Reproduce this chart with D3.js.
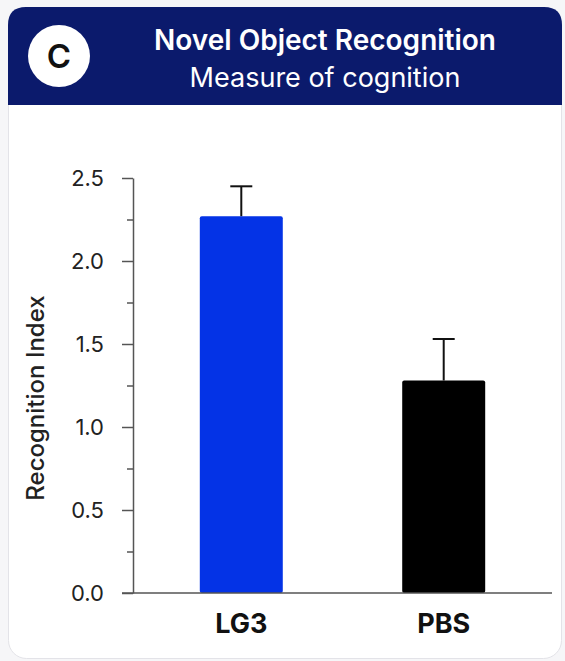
<!DOCTYPE html>
<html lang="en">
<head>
    <meta charset="UTF-8">
    <title>Novel Object Recognition</title>
    <script src="https://d3js.org/d3.v7.min.js"></script>
    <style>
        html, body {
            margin: 0;
            padding: 0;
            background: #f6f6f8;
        }
        svg {
            display: block;
            font-family: "Inter", "Noto Sans", sans-serif;
        }
    </style>
</head>
<body>
    <div id="chart"></div>

    <script>
        // Chart data
        const groups = ["LG3", "PBS"];
        const means = [2.27, 1.28];
        const errors = [0.18, 0.25];
        const barColors = ["#0433e6", "#000000"];
        const majorTicks = [0, 0.5, 1.0, 1.5, 2.0, 2.5];
        const minorTicks = [0.25, 0.75, 1.25, 1.75, 2.25];

        const W = 565, H = 661;

        const svg = d3.select("#chart")
            .append("svg")
            .attr("width", W)
            .attr("height", H);

        // Card
        svg.append("rect")
            .attr("x", 8.5).attr("y", 7.5)
            .attr("width", 553).attr("height", 651)
            .attr("rx", 18)
            .attr("fill", "#ffffff")
            .attr("stroke", "#e3e3e8");

        // Header band with rounded top corners
        const hx = 8, hy = 7, hw = 554, hh = 98, r = 18;
        svg.append("path")
            .attr("d", `M${hx},${hy + hh} V${hy + r} Q${hx},${hy} ${hx + r},${hy} H${hx + hw - r} Q${hx + hw},${hy} ${hx + hw},${hy + r} V${hy + hh} Z`)
            .attr("fill", "#0b1a6c");

        // Panel letter
        svg.append("circle")
            .attr("cx", 59).attr("cy", 56).attr("r", 31)
            .attr("fill", "#ffffff");
        svg.append("text")
            .attr("x", 59).attr("y", 68)
            .attr("text-anchor", "middle")
            .style("font-size", "33px")
            .style("font-weight", 600)
            .attr("fill", "#111")
            .text("C");

        // Titles
        svg.append("text")
            .attr("x", 325).attr("y", 50)
            .attr("text-anchor", "middle")
            .attr("fill", "#ffffff")
            .style("font-size", "28px")
            .style("font-weight", 600)
            .text("Novel Object Recognition");
        svg.append("text")
            .attr("x", 325).attr("y", 87)
            .attr("text-anchor", "middle")
            .attr("fill", "#ffffff")
            .style("font-size", "27px")
            .style("font-weight", 400)
            .text("Measure of cognition");

        // Scales
        const x = d3.scaleBand()
            .domain(groups)
            .range([133, 552])
            .paddingInner(0.59)
            .paddingOuter(0.33);

        const y = d3.scaleLinear()
            .domain([0, 2.5])
            .range([593, 178]);

        // Minor ticks
        svg.append("g")
            .attr("transform", "translate(133,0)")
            .call(d3.axisLeft(y).tickValues(minorTicks).tickSize(6).tickFormat(""))
            .call(g => g.select(".domain").remove())
            .selectAll("line").attr("stroke", "#555").attr("stroke-width", 1.5);

        // Y axis
        const yAxis = svg.append("g")
            .attr("transform", "translate(133,0)")
            .call(d3.axisLeft(y).tickValues(majorTicks).tickSize(11).tickSizeOuter(0)
                .tickPadding(18).tickFormat(d3.format(".1f")));
        yAxis.select(".domain").attr("stroke", "#555").attr("stroke-width", 1.5);
        yAxis.selectAll(".tick line").attr("stroke", "#555").attr("stroke-width", 1.5);
        yAxis.selectAll(".tick text")
            .attr("fill", "#222")
            .style("font-size", "22px")
            .style("font-family", "Inter, sans-serif");

        // Bars
        svg.selectAll(".bar")
            .data(groups)
            .enter()
            .append("rect")
            .attr("class", "bar")
            .attr("x", d => x(d))
            .attr("y", (d, i) => y(means[i]))
            .attr("width", x.bandwidth())
            .attr("height", (d, i) => y(0) - y(means[i]))
            .attr("rx", 2)
            .attr("fill", (d, i) => barColors[i]);

        // Error bars (upper only)
        const err = svg.selectAll(".err")
            .data(groups)
            .enter()
            .append("g")
            .attr("class", "err")
            .attr("stroke", "#111")
            .attr("stroke-width", 2);
        err.append("line")
            .attr("x1", d => x(d) + x.bandwidth() / 2)
            .attr("x2", d => x(d) + x.bandwidth() / 2)
            .attr("y1", (d, i) => y(means[i]))
            .attr("y2", (d, i) => y(means[i] + errors[i]));
        err.append("line")
            .attr("x1", d => x(d) + x.bandwidth() / 2 - 11)
            .attr("x2", d => x(d) + x.bandwidth() / 2 + 11)
            .attr("y1", (d, i) => y(means[i] + errors[i]))
            .attr("y2", (d, i) => y(means[i] + errors[i]));

        // X axis
        const xAxis = svg.append("g")
            .attr("transform", "translate(0,593)")
            .call(d3.axisBottom(x).tickSize(0));
        xAxis.select(".domain")
            .attr("d", "M122,0H552")
            .attr("stroke", "#555")
            .attr("stroke-width", 1.5);
        xAxis.selectAll(".tick text")
            .attr("y", 40)
            .attr("dy", null)
            .attr("fill", "#111")
            .style("font-size", "27px")
            .style("font-weight", 700)
            .style("font-family", "Inter, sans-serif");

        // Y axis label
        svg.append("text")
            .attr("transform", "translate(44,398) rotate(-90)")
            .attr("text-anchor", "middle")
            .attr("fill", "#222")
            .style("font-size", "24px")
            .style("font-weight", 500)
            .text("Recognition Index");
    </script>
</body>
</html>
